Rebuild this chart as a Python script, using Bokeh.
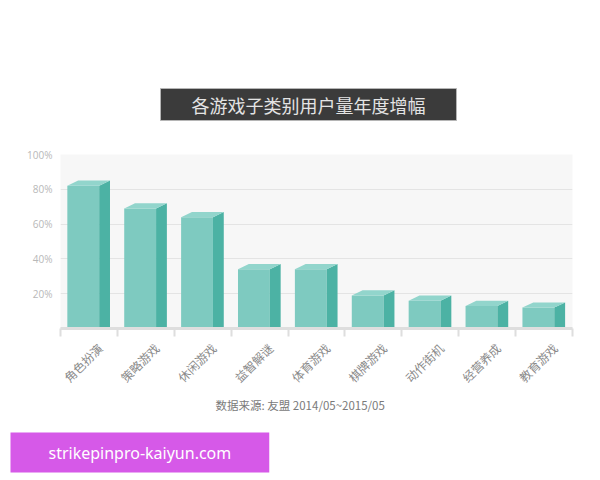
from math import pi

from bokeh.embed import file_html
from bokeh.models import FixedTicker, LinearAxis, Title
from bokeh.plotting import figure
from bokeh.resources import INLINE

# data
categories = ["角色扮演", "策略游戏", "休闲游戏", "益智解谜", "体育游戏",
              "棋牌游戏", "动作街机", "经营养成", "教育游戏"]
growth = [82, 69, 64, 34, 34, 19, 16, 13, 12]     # percent
y_ticks = [20, 40, 60, 80, 100]
y_tick_labels = ["20%", "40%", "60%", "80%", "100%"]
title_text = "各游戏子类别用户量年度增幅"
source_text = "数据来源:  友盟 2014/05~2015/05"
watermark_text = "strikepinpro-kaiyun.com"

FONT = "Noto Sans CJK SC"
FRONT = "#7ecac0"
SIDE = "#4cb2a4"
TOP = "#92d5cc"

# 3d look of the bars
left_off = 0.38     # front face left edge, from category centre
front_w = 0.56
depth_x = 0.19
depth_y = 3.0
label_shift = 0.19  # rotated labels end a bit right of the centre

n = len(categories)
centers = [i + 0.5 for i in range(n)]
front_x = [c - left_off + front_w / 2 for c in centers]
side_xs, side_ys, top_xs, top_ys = [], [], [], []
for c, v in zip(centers, growth):
    fl = c - left_off
    fr = fl + front_w
    side_xs.append([fr, fr + depth_x, fr + depth_x, fr])
    side_ys.append([0, 0, v + depth_y, v])
    top_xs.append([fl, fr, fr + depth_x, fl + depth_x])
    top_ys.append([v, v, v + depth_y, v + depth_y])

p = figure(width=600, height=480, x_range=(0, n), y_range=(0, 100),
           output_backend="svg", toolbar_location=None,
           min_border_left=60, min_border_right=28,
           min_border_top=154, min_border_bottom=152)
p.background_fill_color = "#f7f7f7"
p.border_fill_color = "white"
p.outline_line_color = None

p.vbar(x=front_x, width=front_w, top=growth, bottom=0,
       fill_color=FRONT, line_color=None)
p.patches(side_xs, side_ys, fill_color=SIDE, line_color=None)
p.patches(top_xs, top_ys, fill_color=TOP, line_color=None)

# title box
p.title.text = title_text
p.title.align = "left"
p.title.offset = 100
p.title.text_font = FONT
p.title.text_font_size = "18px"
p.title.text_font_style = "normal"
p.title.text_color = "#e4e4e4"
p.title.background_fill_color = "#3b3b3b"
p.title.border_line_color = "#b5b5b5"
p.title.padding = dict(left=31, right=31, top=3, bottom=3)
p.title.standoff = 68

# grid and y axis
p.xgrid.grid_line_color = None
p.ygrid.ticker = FixedTicker(ticks=y_ticks[:-1])
p.ygrid.grid_line_color = "#e4e4e4"

p.yaxis.ticker = FixedTicker(ticks=y_ticks)
p.yaxis.major_label_overrides = dict(zip(y_ticks, y_tick_labels))
p.yaxis.axis_line_color = None
p.yaxis.major_tick_line_color = None
p.yaxis.major_tick_out = 0
p.yaxis.minor_tick_line_color = None
p.yaxis.minor_tick_out = 0
p.yaxis.major_label_standoff = 8
p.yaxis.major_label_text_font = "Open Sans"
p.yaxis.major_label_text_font_size = "10px"
p.yaxis.major_label_text_color = "#b8b8b8"

# x axis: line and tick marks between categories
p.xaxis.ticker = FixedTicker(ticks=list(range(n + 1)))
p.xaxis.major_label_overrides = {i: "" for i in range(n + 1)}
p.xaxis.major_label_text_font_size = "1px"
p.xaxis.major_label_standoff = 0
p.xaxis.axis_line_color = "#dedede"
p.xaxis.axis_line_width = 3
p.xaxis.major_tick_line_color = "#dedede"
p.xaxis.major_tick_line_width = 2
p.xaxis.major_tick_in = 0
p.xaxis.major_tick_out = 8
p.xaxis.minor_tick_line_color = None

# second x axis: the rotated category names
label_pos = [c + label_shift for c in centers]
cat_axis = LinearAxis(ticker=FixedTicker(ticks=label_pos),
                      major_label_overrides=dict(zip(label_pos, categories)),
                      major_label_orientation=pi / 4,
                      major_label_standoff=9,
                      major_label_text_font=FONT,
                      major_label_text_font_size="12px",
                      major_label_text_color="#8a8a8a",
                      axis_line_color=None,
                      major_tick_line_color=None,
                      major_tick_out=0,
                      minor_tick_line_color=None,
                      minor_tick_out=0)
p.add_layout(cat_axis, "below")

# source note
note = Title(text=source_text, align="left", offset=155,
             text_font=FONT, text_font_size="11.5px",
             text_font_style="normal", text_color="#7a7a7a",
             standoff=0)
p.add_layout(note, "below")

# empty gap between the note and the badge
p.add_layout(Title(text=" ", text_font_size="1px", standoff=7), "below")

# the pink badge at the bottom
badge = Title(text=watermark_text, align="left", offset=-50,
              text_font="Noto Sans", text_font_size="16px",
              text_font_style="normal", text_color="white",
              background_fill_color="#d659e8",
              padding=dict(left=38, right=38, top=9, bottom=9),
              standoff=16)
p.add_layout(badge, "below")

open("out.html", "w", encoding="utf-8").write(file_html(p, INLINE))
